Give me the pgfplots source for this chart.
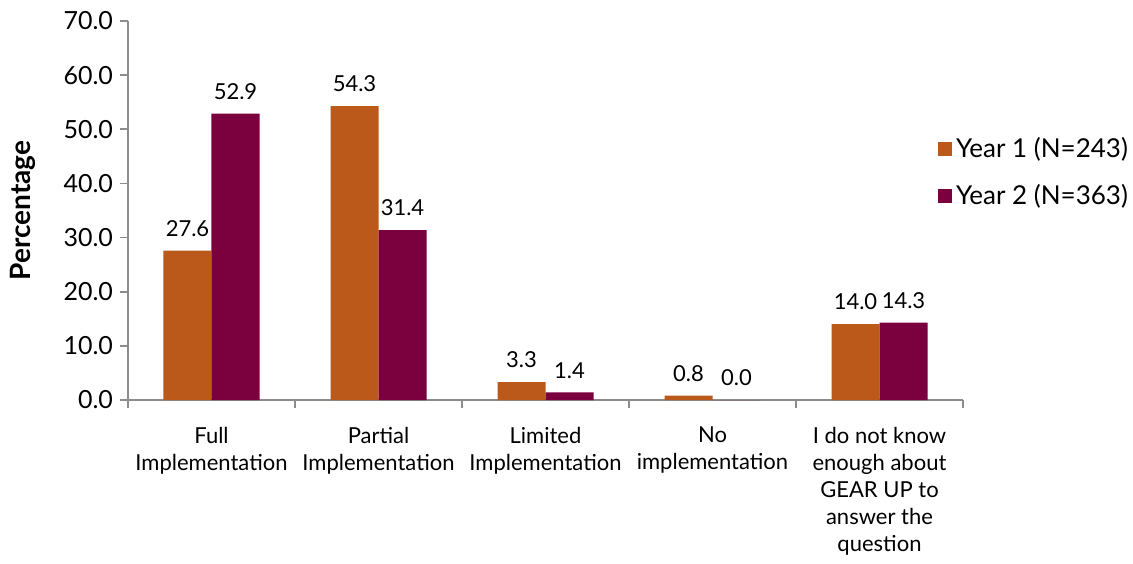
\documentclass[border=0pt]{standalone}
\usepackage{pgfplots}
\pgfplotsset{compat=1.18}
\usepackage{fontspec}
\setmainfont{Lato}

\definecolor{yearone}{RGB}{186,89,26}
\definecolor{yeartwo}{RGB}{122,0,62}
\definecolor{axisgray}{RGB}{140,140,140}

\begin{document}
\begin{tikzpicture}
\begin{axis}[
  scale only axis,
  width=417.5pt, height=189.5pt,
  xmin=-0.5, xmax=4.5,
  ymin=0, ymax=70,
  ytick={0,10,...,70},
  yticklabel style={font=\fontsize{12.5}{14}\selectfont,
    /pgf/number format/.cd, fixed, fixed zerofill, precision=1},
  /pgf/number format/assume math mode=true,
  xtick={0,1,2,3,4},
  xticklabels={{Full\\Implementation},{Partial\\Implementation},{Limited\\Implementation},{No\\implementation},{I do not know\\enough about\\GEAR UP to\\answer the\\question}},
  xticklabel style={align=center, font=\fontsize{11}{13.5}\selectfont, yshift=-6pt},
  major x tick style={draw=none},
  minor xtick={-0.5,0.5,...,4.5},
  minor x tick style={draw=axisgray, line width=0.8pt},
  y tick style={draw=axisgray, line width=0.8pt},
  tick align=outside,
  minor tick length=4pt, major tick length=4pt,
  axis x line*=bottom, axis y line*=left,
  axis line style={draw=axisgray, line width=0.8pt, -},
  ylabel={\textbf{Percentage}},
  ylabel style={font=\fontsize{14}{16}\selectfont, yshift=7pt},
  ybar, bar width=24pt,
  nodes near coords,
  nodes near coords style={font=\fontsize{11}{14}\selectfont, yshift=3.5pt,
    /pgf/number format/.cd, fixed, fixed zerofill, precision=1, assume math mode=true},
  legend style={at={(rel axis cs:0.9696,0.60)}, anchor=west, draw=none, fill=none,
    font=\fontsize{13}{15}\selectfont, row sep=8pt, inner sep=0pt},
  legend cell align=left,
  legend image code/.code={\fill[#1] (0pt,-3.5pt) rectangle (7pt,3.5pt);},
  clip=false,
]
\addplot[fill=yearone, draw=none, bar shift=-12pt] coordinates {(0,27.6) (1,54.3) (2,3.3) (3,0.8) (4,14.0)};
\addplot[fill=yeartwo, draw=none, bar shift=12pt] coordinates {(0,52.9) (1,31.4) (2,1.4) (3,0.0) (4,14.3)};
\legend{Year 1 (N=243), Year 2 (N=363)}
\end{axis}
\pgfresetboundingbox
\path[use as bounding box] (-64pt,-81.5pt) rectangle (502.5pt,200pt);
\end{tikzpicture}
\end{document}
